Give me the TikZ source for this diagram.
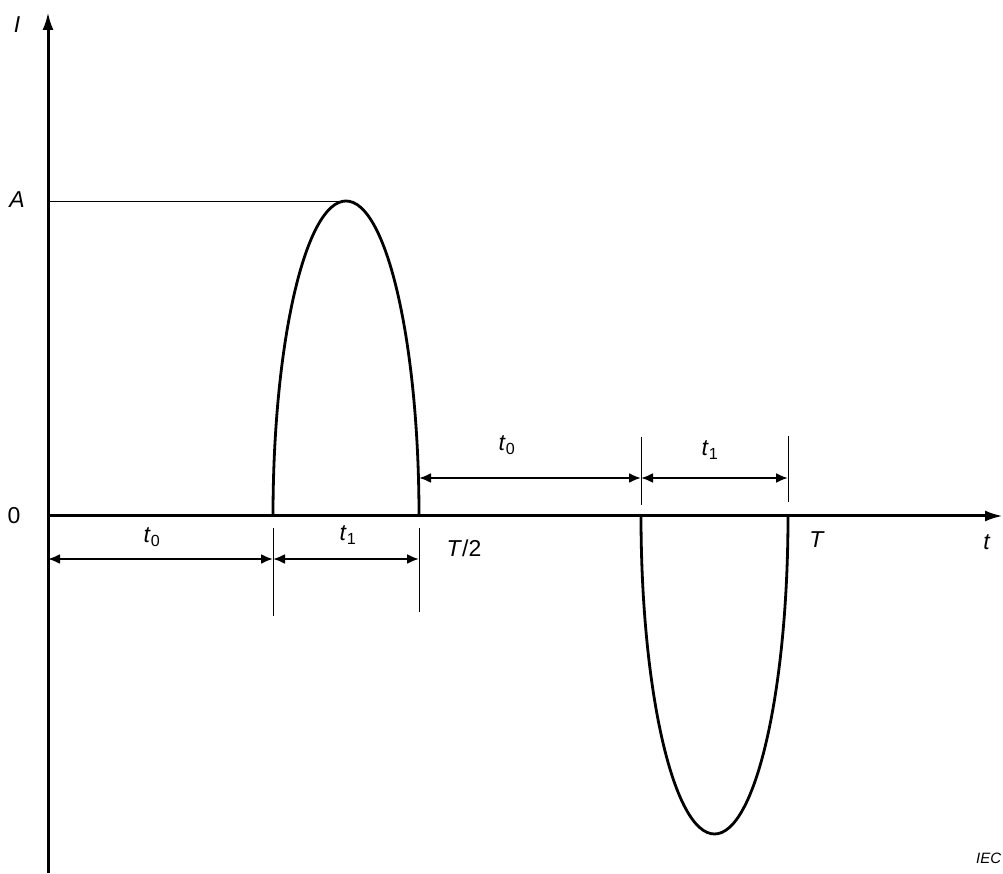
\documentclass[tikz,border=0pt]{standalone}
\usepackage{fontspec}
\setmainfont{Liberation Sans}
\usetikzlibrary{arrows.meta,positioning,calc}

\newcommand{\tsub}[1]{\textit{t}\textsubscript{#1}}

\begin{document}
\begin{tikzpicture}[x=1pt,y=1pt,
    axis/.style={line width=3pt,-{Latex[length=18pt,width=11pt]}},
    pulse/.style={line width=2.8pt},
    thinline/.style={line width=0.9pt},
    dimline/.style={line width=2.2pt,{Latex[length=12pt,width=10pt]}-{Latex[length=12pt,width=10pt]}},
    lbl/.style={font=\fontsize{23}{26}\selectfont, inner sep=0pt}]

  \useasboundingbox (0,0) rectangle (1003,873);

  % Axes
  \coordinate (ybot) at (48,0);
  \coordinate (ytop) at (48,861);
  \coordinate (orig) at (48,357);
  \coordinate (xend) at (1003,357);
  \draw[axis] (ybot) -- (ytop);
  \draw[axis] (orig) -- (xend);

  \node[lbl] (ilab) at (17,848) {\textit{I}};
  \node[lbl] (alab) at (17,673) {\textit{A}};
  \node[lbl] (zero) at (14,357) {0};
  \node[lbl] (tlab) at (987,331) {\textit{t}};

  % Amplitude level
  \coordinate (alev) at (48,672);
  \coordinate (peak) at (346,672);
  \draw[thinline] (alev) -- (peak);

  % Positive half-wave
  \coordinate (pos0) at (273,357);
  \coordinate (pos1) at (419,357);
  \draw[pulse] (pos0) arc[start angle=180, end angle=0, x radius=73, y radius=315];

  % Negative half-wave
  \coordinate (neg0) at (641,357);
  \coordinate (neg1) at (788,357);
  \draw[pulse] (neg0) arc[start angle=180, end angle=360, x radius=73.5, y radius=318];

  % Bottom dimensions
  \coordinate (ta) at (273,345);
  \coordinate (tb) at (273,257);
  \coordinate (tc) at (419,345);
  \coordinate (td) at (419,261);
  \draw[thinline] (ta) -- (tb);
  \draw[thinline] (tc) -- (td);
  \coordinate (d0) at (48,314);
  \coordinate (d1) at (273,314);
  \coordinate (d2) at (419,314);
  \draw[dimline] (d0) -- (d1);
  \draw[dimline] (d1) -- (d2);
  \node[lbl] (t0a) at (152,336) {\tsub{0}};
  \node[lbl] (t1a) at (348,338) {\tsub{1}};
  \node[lbl] (half) at (464,325) {\textit{T}/2};

  % Top dimensions
  \coordinate (te) at (641,436);
  \coordinate (tf) at (641,368);
  \coordinate (tg) at (788,437);
  \coordinate (th) at (788,371);
  \draw[thinline] (te) -- (tf);
  \draw[thinline] (tg) -- (th);
  \coordinate (u0) at (419,395);
  \coordinate (u1) at (641,395);
  \coordinate (u2) at (788,395);
  \draw[dimline] (u0) -- (u1);
  \draw[dimline] (u1) -- (u2);
  \node[lbl] (t0b) at (507,428) {\tsub{0}};
  \node[lbl] (t1b) at (710,423) {\tsub{1}};
  \node[lbl] (per) at (817,333) {\textit{T}};

  \node[font=\fontsize{15}{18}\selectfont\itshape, inner sep=0pt, anchor=west] (iec) at (976,15) {IEC};
\end{tikzpicture}
\end{document}
